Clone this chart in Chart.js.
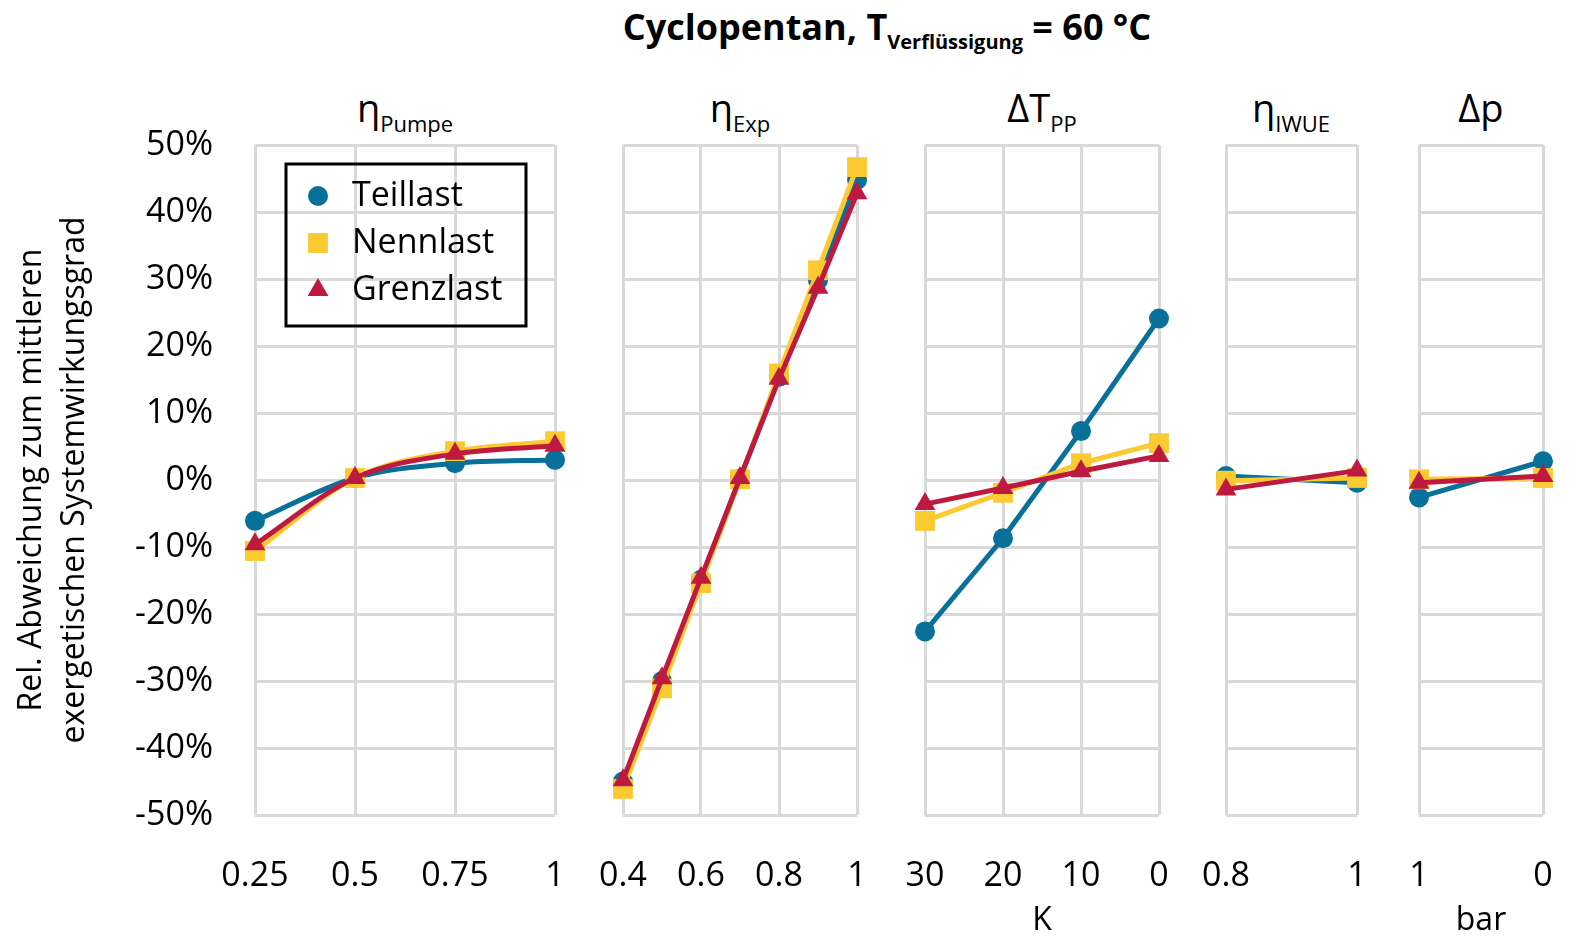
<!DOCTYPE html>
<html>
<head>
<meta charset="utf-8">
<script src="https://cdn.jsdelivr.net/npm/chart.js@4/dist/chart.umd.min.js"></script>
<style>
body { margin: 0; background: #fff; font-family: "Open Sans", sans-serif; }
#wrap { position: relative; width: 1570px; height: 943px; overflow: hidden; background: #fff; }
#wrap canvas { position: absolute; top: 0; }
.ttl { position: absolute; transform: translateX(-50%); white-space: nowrap; color: #000; line-height: 1; }
.ttl .sub { position: relative; }
</style>
</head>
<body>
<div id="wrap">
  <div class="ttl" style="left:887px;top:9px;font-size:36px;font-weight:700">Cyclopentan, T<span class="sub" style="font-size:20px;top:9px">Verflüssigung</span> = 60 °C</div>
  <div class="ttl" style="left:405px;top:88px;font-size:38px">η<span class="sub" style="font-size:22px;top:10px">Pumpe</span></div>
  <div class="ttl" style="left:740px;top:88px;font-size:38px">η<span class="sub" style="font-size:22px;top:10px">Exp</span></div>
  <div class="ttl" style="left:1042px;top:88px;font-size:38px">ΔT<span class="sub" style="font-size:22px;top:10px">PP</span></div>
  <div class="ttl" style="left:1291px;top:88px;font-size:38px">η<span class="sub" style="font-size:22px;top:10px">IWUE</span></div>
  <div class="ttl" style="left:1481px;top:88px;font-size:38px">Δp</div>
</div>
<script>
// series
const seriesNames = ['Teillast', 'Nennlast', 'Grenzlast'];

// pump efficiency
const pumpeX = [0.25, 0.5, 0.75, 1];
const pumpeTicks = [0.25, 0.5, 0.75, 1];
const pumpeTeillast = [-6.1, 0.3, 2.5, 3.0];
const pumpeNennlast = [-10.6, 0.3, 4.3, 5.8];
const pumpeGrenzlast = [-9.6, 0.3, 3.9, 5.1];

// expander efficiency
const expX = [0.4, 0.5, 0.6, 0.7, 0.8, 0.9, 1];
const expTicks = [0.4, 0.6, 0.8, 1];
const expTeillast = [-45.0, -30.0, -14.9, 0.2, 15.4, 29.8, 44.8];
const expNennlast = [-46.1, -31.1, -15.4, 0.1, 15.9, 31.3, 46.7];
const expGrenzlast = [-44.8, -29.6, -14.6, 0.3, 15.1, 28.7, 42.8];

// pinch point
const ppX = [30, 20, 10, 0];
const ppTicks = [30, 20, 10, 0];
const ppTeillast = [-22.6, -8.7, 7.3, 24.1];
const ppNennlast = [-6.1, -1.9, 2.5, 5.5];
const ppGrenzlast = [-3.6, -1.2, 1.3, 3.6];

// internal heat exchanger
const iwueX = [0.8, 1];
const iwueTicks = [0.8, 1];
const iwueTeillast = [0.6, -0.4];
const iwueNennlast = [-0.1, 0.3];
const iwueGrenzlast = [-1.4, 1.4];

// pressure drop
const dpX = [1, 0];
const dpTicks = [1, 0];
const dpTeillast = [-2.6, 2.8];
const dpNennlast = [0.1, 0.3];
const dpGrenzlast = [-0.4, 0.6];

const yMin = -50, yMax = 50, yStep = 10;
const yTitle = ['Rel. Abweichung zum mittleren', 'exergetischen Systemwirkungsgrad'];

const colors = ['#087099', '#fbc930', '#be1a40'];
const pointStyles = ['circle', 'rect', 'triangle'];
const pointRadii = [10, 14, 12];
const gridColor = '#d9d9d9';
const font = { family: '"Open Sans", sans-serif', size: 34 };

const panels = [
  { left: 0,    width: 590, padL: 0,  padR: 35, x: pumpeX, ticks: pumpeTicks, min: 0.25, max: 1, reverse: false, smooth: true,
    series: [pumpeTeillast, pumpeNennlast, pumpeGrenzlast], unit: '' },
  { left: 590,  width: 300, padL: 33, padR: 33, x: expX, ticks: expTicks, min: 0.4, max: 1, reverse: false,
    series: [expTeillast, expNennlast, expGrenzlast], unit: '' },
  { left: 890,  width: 302, padL: 35, padR: 33, x: ppX, ticks: ppTicks, min: 0, max: 30, reverse: true,
    series: [ppTeillast, ppNennlast, ppGrenzlast], unit: 'K' },
  { left: 1192, width: 196, padL: 34, padR: 31, x: iwueX, ticks: iwueTicks, min: 0.8, max: 1, reverse: false,
    series: [iwueTeillast, iwueNennlast, iwueGrenzlast], unit: '' },
  { left: 1388, width: 182, padL: 31, padR: 27, x: dpX, ticks: dpTicks, min: 0, max: 1, reverse: true,
    series: [dpTeillast, dpNennlast, dpGrenzlast], unit: 'bar' }
];

// boxed legend inside the first panel
const boxLegend = {
  id: 'boxLegend',
  afterDraw(chart) {
    const ctx = chart.ctx;
    ctx.save();
    ctx.lineWidth = 3;
    ctx.strokeStyle = '#000';
    ctx.strokeRect(286, 164, 240, 162);
    ctx.font = '34px "Open Sans", sans-serif';
    ctx.textBaseline = 'middle';
    ctx.textAlign = 'left';
    seriesNames.forEach((name, k) => {
      const y = 196 + k * 47;
      ctx.fillStyle = colors[k];
      Chart.helpers.drawPoint(ctx, {
        pointStyle: pointStyles[k], radius: pointRadii[k], rotation: 0, borderWidth: 0
      }, 318, y);
      ctx.fillStyle = '#000';
      ctx.fillText(name, 352, y);
    });
    ctx.restore();
  }
};

const wrap = document.getElementById('wrap');

panels.forEach((p, i) => {
  const canvas = document.createElement('canvas');
  canvas.width = p.width;
  canvas.height = 943;
  canvas.style.left = p.left + 'px';
  canvas.style.width = p.width + 'px';
  canvas.style.height = '943px';
  wrap.appendChild(canvas);

  new Chart(canvas, {
    type: 'line',
    data: {
      datasets: p.series.map((vals, k) => ({
        label: seriesNames[k],
        data: p.x.map((x, j) => ({ x: x, y: vals[j] })),
        borderColor: colors[k],
        backgroundColor: colors[k],
        borderWidth: 5,
        pointStyle: pointStyles[k],
        pointRadius: pointRadii[k],
        pointBorderWidth: 0,
        pointBackgroundColor: colors[k],
        cubicInterpolationMode: p.smooth ? 'monotone' : 'default',
        clip: false,
        order: 3 - k
      }))
    },
    options: {
      responsive: false,
      animation: false,
      events: [],
      layout: { padding: { top: 145, left: p.padL, right: p.padR, bottom: 0 } },
      plugins: { legend: { display: false }, tooltip: { enabled: false } },
      scales: {
        x: {
          type: 'linear',
          min: p.min,
          max: p.max,
          reverse: p.reverse,
          afterBuildTicks: s => { s.ticks = p.ticks.map(v => ({ value: v })); },
          // fixed axis height, and no extra room for labels hanging over the edges
          afterFit: s => { s.height = 128; s.paddingLeft = 0; s.paddingRight = 0; },
          grid: { color: gridColor, lineWidth: 3, drawTicks: false },
          border: { display: false },
          ticks: { color: '#000', font: font, padding: 41, maxRotation: 0, autoSkip: false,
                   callback: v => String(v) },
          title: { display: !!p.unit, text: p.unit, color: '#000',
                   font: { family: font.family, size: 32 }, padding: { top: 0, bottom: 3 } }
        },
        y: {
          min: yMin,
          max: yMax,
          afterFit: s => { s.width = i === 0 ? 255 : 0; s.paddingTop = 0; s.paddingBottom = 0; },
          grid: { color: gridColor, lineWidth: 3, drawTicks: false },
          border: { display: false },
          ticks: { display: i === 0, stepSize: yStep, color: '#000', font: font, padding: 42,
                   callback: v => v + '%' },
          title: { display: i === 0, text: yTitle, color: '#000',
                   font: { family: font.family, size: 32, lineHeight: 1.35 }, padding: { top: 10, bottom: 0 } }
        }
      }
    },
    plugins: i === 0 ? [boxLegend] : []
  });
});
</script>
</body>
</html>
